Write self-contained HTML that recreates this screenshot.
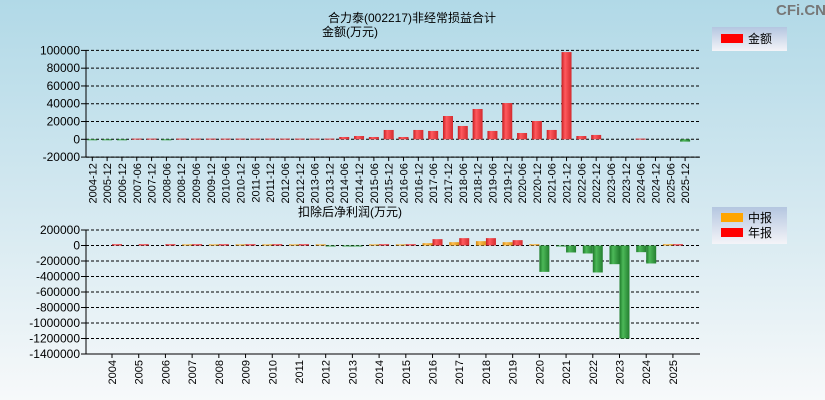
<!DOCTYPE html>
<html><head><meta charset="utf-8"><style>
html,body{margin:0;padding:0;width:825px;height:400px;overflow:hidden}
svg{display:block;font-family:"Liberation Sans","Noto Sans CJK SC",sans-serif}
</style></head><body>
<svg id="c" width="825" height="400" xmlns="http://www.w3.org/2000/svg">
<defs>
<linearGradient id="bg" x1="0" y1="0" x2="0" y2="1"><stop offset="0" stop-color="#b1d9e7"/><stop offset="0.5" stop-color="#d3e8f0"/><stop offset="1" stop-color="#f7f9fa"/></linearGradient>
<linearGradient id="gr" x1="0" x2="1"><stop offset="0" stop-color="#c81e22"/><stop offset="0.35" stop-color="#ff5a5e"/><stop offset="1" stop-color="#d42a2e"/></linearGradient>
<linearGradient id="gg" x1="0" x2="1"><stop offset="0" stop-color="#1e7a2a"/><stop offset="0.35" stop-color="#4cb858"/><stop offset="1" stop-color="#237f2f"/></linearGradient>
<linearGradient id="go" x1="0" x2="1"><stop offset="0" stop-color="#d48a10"/><stop offset="0.35" stop-color="#ffc050"/><stop offset="1" stop-color="#d8901a"/></linearGradient>
<linearGradient id="lg" x1="0" y1="0" x2="0" y2="1"><stop offset="0" stop-color="#b4c6e0"/><stop offset="1" stop-color="#f4f4f8"/></linearGradient>
</defs>
<rect width="825" height="400" fill="url(#bg)"/>
<text x="776" y="15" font-size="15" font-weight="bold" fill="#777">CFi.CN</text>
<text x="412" y="22" font-size="12" text-anchor="middle">合力泰(002217)非经常损益合计</text>
<text x="350" y="36" font-size="12" text-anchor="middle">金额(万元)</text>
<text x="350" y="216" font-size="12" text-anchor="middle">扣除后净利润(万元)</text>
<g><rect x="712" y="27" width="75" height="24" fill="url(#lg)"/><rect x="721" y="34" width="22" height="9" fill="#f00"/><text x="748" y="43" font-size="12">金额</text></g>
<g><rect x="712" y="207" width="75" height="37" fill="url(#lg)"/><rect x="721" y="213" width="22" height="9" fill="#ffa500"/><text x="748" y="222" font-size="12">中报</text><rect x="721" y="228" width="22" height="9" fill="#f00"/><text x="748" y="237" font-size="12">年报</text></g>
<g id="top"></g><g id="bot"></g>
</svg>
<script>
const topCats=["2004-12","2005-12","2006-12","2007-06","2007-12","2008-06","2008-12","2009-06","2009-12","2010-06","2010-12","2011-06","2011-12","2012-06","2012-12","2013-06","2013-12","2014-06","2014-12","2015-06","2015-12","2016-06","2016-12","2017-06","2017-12","2018-06","2018-12","2019-06","2019-12","2020-06","2020-12","2021-06","2021-12","2022-06","2022-12","2023-06","2023-12","2024-06","2024-12","2025-06","2025-12"];
const topVals=[-500,-500,-500,800,800,-500,800,800,800,800,800,800,800,800,800,800,800,2600,3700,2600,10500,2600,10500,9400,26200,15000,34100,9400,40800,7100,20600,10500,98100,3700,4900,0,0,800,0,0,-2600];
const topTicks=[100000,80000,60000,40000,20000,0,-20000];
const botCats=["2004","2005","2006","2007","2008","2009","2010","2011","2012","2013","2014","2015","2016","2017","2018","2019","2020","2021","2022","2023","2024","2025"];
const midVals=[0,0,0,15000,15000,15000,15000,15000,15000,-8000,15000,15000,30000,43000,56000,43000,17000,-5000,-103000,-241000,-86000,17000];
const annVals=[17000,17000,17000,17000,17000,17000,17000,17000,-10000,-8000,17000,17000,82000,95000,95000,69000,-340000,-90000,-348000,-1200000,-232000,17000];
const botTicks=[200000,0,-200000,-400000,-600000,-800000,-1000000,-1200000,-1400000];
const NS="http://www.w3.org/2000/svg";
function mk(p,t,a,txt){const e=document.createElementNS(NS,t);for(const k in a)e.setAttribute(k,a[k]);if(txt!==undefined)e.textContent=txt;p.appendChild(e);return e;}
// top chart
const T=document.getElementById('top');
const ty=v=>139.3-v*0.000889;
const tx=i=>92.3+i*14.82;
topTicks.forEach(v=>{const y=ty(v);
 const l=mk(T,'line',{x1:86,x2:700,y1:y,y2:y,stroke:'#000','stroke-dasharray':'3,2','stroke-width':1});
 
 
 mk(T,'line',{x1:81,x2:86,y1:y,y2:y,stroke:'#000'});
 const t=mk(T,'text',{x:80,y:y+4,'font-size':12,'text-anchor':'end'},String(v));
 
 });
mk(T,'line',{x1:86,x2:86,y1:ty(100000),y2:ty(-20000),stroke:'#000'});
mk(T,'line',{x1:86,x2:700,y1:ty(-20000),y2:ty(-20000),stroke:'#000'});
topCats.forEach((c,i)=>{const x=tx(i);
 mk(T,'line',{x1:x,x2:x,y1:ty(-20000),y2:ty(-20000)+4,stroke:'#000'});
 const t=mk(T,'text',{x:0,y:0,'font-size':11,'text-anchor':'end',transform:`translate(${x+4},${ty(-20000)+6}) rotate(-90)`},c);
 
 
 const v=topVals[i]; if(v===0)return;
 const y0=ty(0),y1=ty(v);
 const r=mk(T,'rect',{x:x-5,y:Math.min(y0,y1),width:10,height:Math.max(1,Math.abs(y1-y0)),fill:v>0?'url(#gr)':'url(#gg)'});
 
 });
// bottom chart
const B=document.getElementById('bot');
const by=v=>245.5-v*0.0000775;
const bx=i=>112+i*26.71;
botTicks.forEach(v=>{const y=by(v);
 const l=mk(B,'line',{x1:86,x2:700,y1:y,y2:y,stroke:'#000','stroke-dasharray':'3,2','stroke-width':1});
 
 
 mk(B,'line',{x1:81,x2:86,y1:y,y2:y,stroke:'#000'});
 const t=mk(B,'text',{x:80,y:y+4,'font-size':12,'text-anchor':'end'},String(v));
 
 });
mk(B,'line',{x1:86,x2:86,y1:by(200000),y2:by(-1400000),stroke:'#000'});
mk(B,'line',{x1:86,x2:700,y1:by(-1400000),y2:by(-1400000),stroke:'#000'});
botCats.forEach((c,i)=>{const x=bx(i);
 mk(B,'line',{x1:x,x2:x,y1:by(-1400000),y2:by(-1400000)+4,stroke:'#000'});
 const t=mk(B,'text',{x:0,y:0,'font-size':11,'text-anchor':'end',transform:`translate(${x+4},${by(-1400000)+6}) rotate(-90)`},c);
 
 
 [[midVals[i],-10,'url(#go)','mid-year-bar'],[annVals[i],0,'url(#gr)','annual-bar']].forEach(([v,off,f,n])=>{
  if(v===0)return;
  const y0=by(0),y1=by(v);
  const r=mk(B,'rect',{x:x+off,y:Math.min(y0,y1),width:10,height:Math.max(1,Math.abs(y1-y0)),fill:v>0?f:'url(#gg)'});
  
  });});
</script>
</body></html>
